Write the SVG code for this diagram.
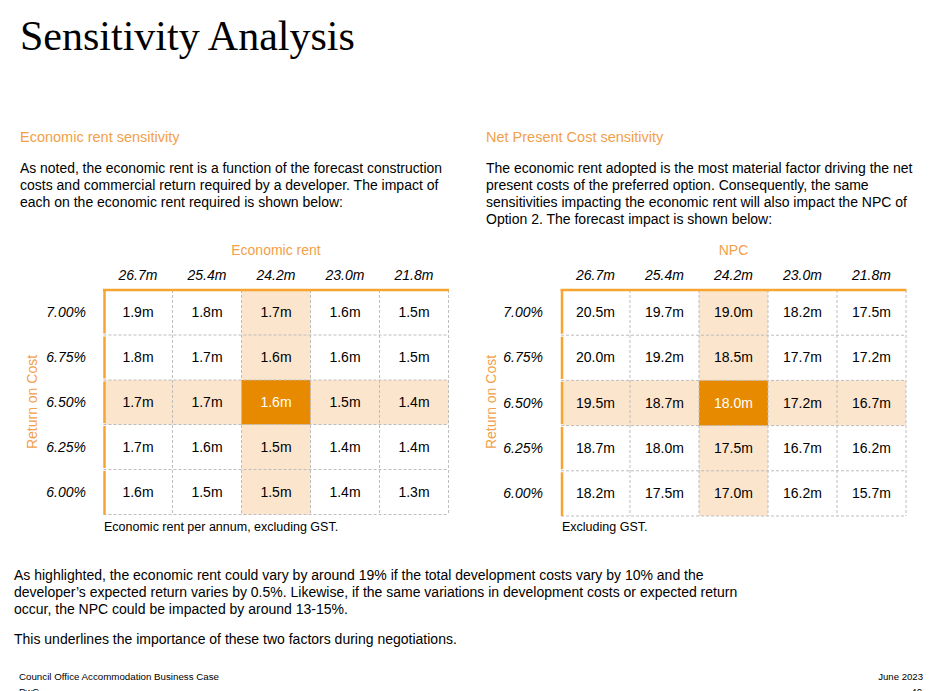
<svg xmlns="http://www.w3.org/2000/svg" width="942" height="691" viewBox="0 0 942 691">
<style>
text{font-family:"Liberation Sans",Arial,sans-serif;fill:#000}
.title{font-family:"Liberation Serif","Times New Roman",serif;font-size:42px}
.or{fill:#F2A04A}
.body{font-size:14px}
.hd{font-size:14px;font-style:italic;text-anchor:middle}
.rl{font-size:14px;font-style:italic;text-anchor:end}
.v{font-size:14px;text-anchor:middle}
.w{fill:#fff}
.note{font-size:12.5px}
.ft{font-size:9.6px}
.dash{stroke:#BDBDBD;stroke-width:1;stroke-dasharray:3 2;fill:none}
.ob{stroke:#F7A530;stroke-width:2.5;fill:none}
.pe{fill:#FCE5CD}
.dk{fill:#E88A00}
</style>
<rect width="942" height="691" fill="#fff"/>
<text class="title" x="20" y="50">Sensitivity Analysis</text>

<g id="left-text">
<text class="body or" x="20" y="142" style="font-size:14.5px">Economic rent sensitivity</text>
<text class="body" x="20" y="173" textLength="422" lengthAdjust="spacingAndGlyphs">As noted, the economic rent is a function of the forecast construction</text>
<text class="body" x="20" y="190">costs and commercial return required by a developer. The impact of</text>
<text class="body" x="20" y="207">each on the economic rent required is shown below:</text>
</g>
<g id="right-text">
<text class="body or" x="486" y="142" style="font-size:14.5px">Net Present Cost sensitivity</text>
<text class="body" x="486" y="173">The economic rent adopted is the most material factor driving the net</text>
<text class="body" x="486" y="190">present costs of the preferred option. Consequently, the same</text>
<text class="body" x="486" y="207">sensitivities impacting the economic rent will also impact the NPC of</text>
<text class="body" x="486" y="224">Option 2. The forecast impact is shown below:</text>
</g>

<g id="table-economic-rent">
<rect class="pe" x="241.5" y="290" width="69" height="224.5"/>
<rect class="pe" x="103.5" y="380" width="345" height="44.5"/>
<rect class="dk" x="241.5" y="380" width="69" height="44.5"/>
<g class="dash">
<path d="M172.5 290V514.5M241.5 290V514.5M310.5 290V514.5M379.5 290V514.5M448.5 290V514.5"/>
<path d="M103.5 335H448.5M103.5 380H448.5M103.5 424.5H448.5M103.5 469.5H448.5M103.5 514.5H448.5"/>
</g>
<path class="ob" d="M103 290H449"/>
<path class="ob" d="M104.5 290V333.5M104.5 336.5V378.5M104.5 381.5V423M104.5 426V468M104.5 471V514.5"/>
<text class="body or" x="276" y="255" text-anchor="middle">Economic rent</text>
<text class="hd" x="138" y="280">26.7m</text>
<text class="hd" x="207" y="280">25.4m</text>
<text class="hd" x="276" y="280">24.2m</text>
<text class="hd" x="345" y="280">23.0m</text>
<text class="hd" x="414" y="280">21.8m</text>
<text class="body or" transform="translate(37,402) rotate(-90)" text-anchor="middle">Return on Cost</text>
<text class="rl" x="86" y="317">7.00%</text>
<text class="rl" x="86" y="362">6.75%</text>
<text class="rl" x="86" y="407">6.50%</text>
<text class="rl" x="86" y="452">6.25%</text>
<text class="rl" x="86" y="497">6.00%</text>
<text class="v" x="138" y="317">1.9m</text><text class="v" x="207" y="317">1.8m</text><text class="v" x="276" y="317">1.7m</text><text class="v" x="345" y="317">1.6m</text><text class="v" x="414" y="317">1.5m</text>
<text class="v" x="138" y="362">1.8m</text><text class="v" x="207" y="362">1.7m</text><text class="v" x="276" y="362">1.6m</text><text class="v" x="345" y="362">1.6m</text><text class="v" x="414" y="362">1.5m</text>
<text class="v" x="138" y="407">1.7m</text><text class="v" x="207" y="407">1.7m</text><text class="v w" x="276" y="407">1.6m</text><text class="v" x="345" y="407">1.5m</text><text class="v" x="414" y="407">1.4m</text>
<text class="v" x="138" y="452">1.7m</text><text class="v" x="207" y="452">1.6m</text><text class="v" x="276" y="452">1.5m</text><text class="v" x="345" y="452">1.4m</text><text class="v" x="414" y="452">1.4m</text>
<text class="v" x="138" y="497">1.6m</text><text class="v" x="207" y="497">1.5m</text><text class="v" x="276" y="497">1.5m</text><text class="v" x="345" y="497">1.4m</text><text class="v" x="414" y="497">1.3m</text>
<text class="note" x="104" y="531">Economic rent per annum, excluding GST.</text>
</g>

<g id="table-npc">
<rect class="pe" x="699" y="290" width="69" height="226"/>
<rect class="pe" x="561" y="380.4" width="345" height="45.2"/>
<rect class="dk" x="699" y="380.4" width="69" height="45.2"/>
<g class="dash">
<path d="M630 290V516M699 290V516M768 290V516M837 290V516M906 290V516"/>
<path d="M561 335.2H906M561 380.4H906M561 425.6H906M561 470.8H906M561 516H906"/>
</g>
<path class="ob" d="M560.5 290H906.5"/>
<path class="ob" d="M562 290V333.7M562 336.7V378.9M562 381.9V424.1M562 427.1V469.3M562 472.3V516"/>
<text class="body or" x="733.5" y="255" text-anchor="middle">NPC</text>
<text class="hd" x="595.5" y="280">26.7m</text>
<text class="hd" x="664.5" y="280">25.4m</text>
<text class="hd" x="733.5" y="280">24.2m</text>
<text class="hd" x="802.5" y="280">23.0m</text>
<text class="hd" x="871.5" y="280">21.8m</text>
<text class="body or" transform="translate(496,402) rotate(-90)" text-anchor="middle">Return on Cost</text>
<text class="rl" x="543" y="317">7.00%</text>
<text class="rl" x="543" y="362">6.75%</text>
<text class="rl" x="543" y="407.5">6.50%</text>
<text class="rl" x="543" y="453">6.25%</text>
<text class="rl" x="543" y="498">6.00%</text>
<text class="v" x="595.5" y="317">20.5m</text><text class="v" x="664.5" y="317">19.7m</text><text class="v" x="733.5" y="317">19.0m</text><text class="v" x="802.5" y="317">18.2m</text><text class="v" x="871.5" y="317">17.5m</text>
<text class="v" x="595.5" y="362">20.0m</text><text class="v" x="664.5" y="362">19.2m</text><text class="v" x="733.5" y="362">18.5m</text><text class="v" x="802.5" y="362">17.7m</text><text class="v" x="871.5" y="362">17.2m</text>
<text class="v" x="595.5" y="407.5">19.5m</text><text class="v" x="664.5" y="407.5">18.7m</text><text class="v w" x="733.5" y="407.5">18.0m</text><text class="v" x="802.5" y="407.5">17.2m</text><text class="v" x="871.5" y="407.5">16.7m</text>
<text class="v" x="595.5" y="453">18.7m</text><text class="v" x="664.5" y="453">18.0m</text><text class="v" x="733.5" y="453">17.5m</text><text class="v" x="802.5" y="453">16.7m</text><text class="v" x="871.5" y="453">16.2m</text>
<text class="v" x="595.5" y="498">18.2m</text><text class="v" x="664.5" y="498">17.5m</text><text class="v" x="733.5" y="498">17.0m</text><text class="v" x="802.5" y="498">16.2m</text><text class="v" x="871.5" y="498">15.7m</text>
<text class="note" x="562" y="531">Excluding GST.</text>
</g>

<g id="summary">
<text class="body" x="14" y="580">As highlighted, the economic rent could vary by around 19% if the total development costs vary by 10% and the</text>
<text class="body" x="14" y="597">developer’s expected return varies by 0.5%. Likewise, if the same variations in development costs or expected return</text>
<text class="body" x="14" y="614">occur, the NPC could be impacted by around 13-15%.</text>
<text class="body" x="14" y="644">This underlines the importance of these two factors during negotiations.</text>
</g>

<g id="footer">
<text class="ft" x="19" y="680" textLength="200" lengthAdjust="spacingAndGlyphs">Council Office Accommodation Business Case</text>
<text class="ft" x="923" y="680" text-anchor="end">June 2023</text>
<text class="ft" x="19" y="694.5">PwC</text>
<text class="ft" x="922" y="694.5" text-anchor="end">40</text>
</g>
</svg>
